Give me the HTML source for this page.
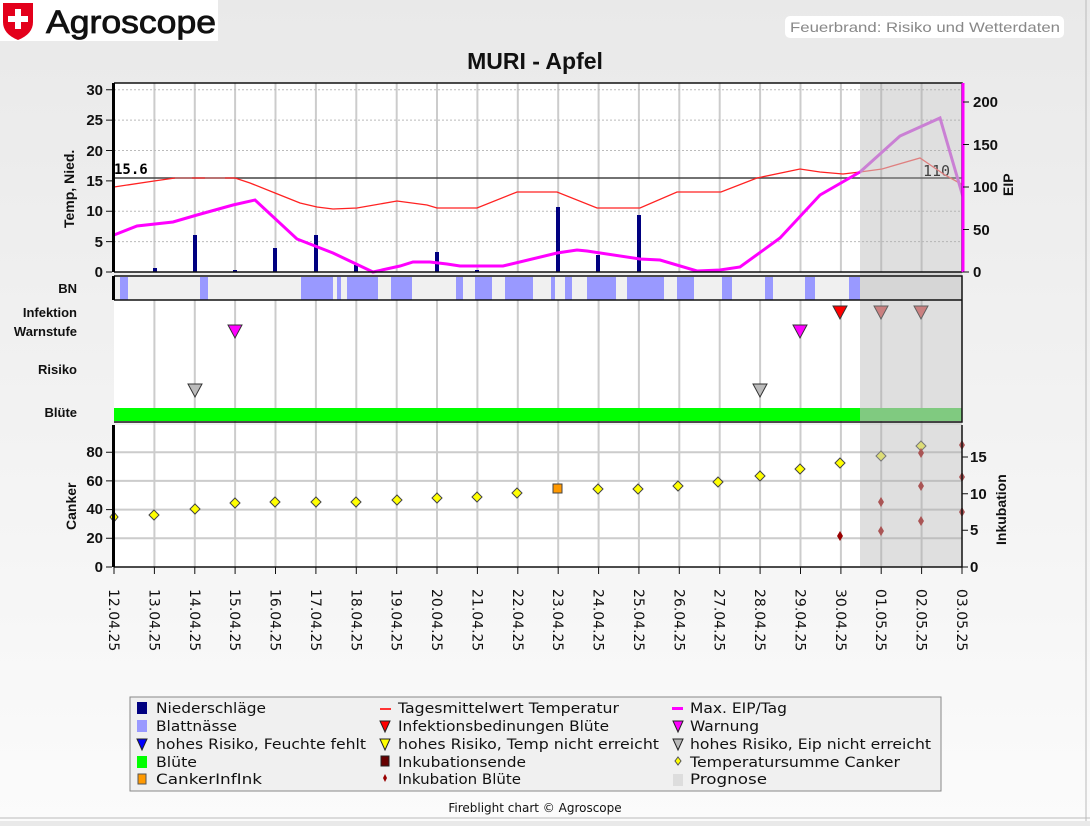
<!DOCTYPE html>
<html><head><meta charset="utf-8"><style>
html,body{margin:0;padding:0}
body{width:1090px;height:821px;overflow:hidden;background:linear-gradient(#e9e9e9,#fbfbfb);font-family:"Liberation Sans",sans-serif}
</style></head><body>
<svg width="1090" height="821" xmlns="http://www.w3.org/2000/svg" font-family="Liberation Sans, sans-serif">
<line x1="1086" y1="0" x2="1086" y2="821" stroke="#bbb"/>
<line x1="0" y1="818" x2="1090" y2="818" stroke="#bbb"/>
<!-- logo -->
<rect x="0" y="0" width="218" height="41" fill="#fff"/>
<path d="M3 3 H33 V22 Q33 34 18 40 Q3 34 3 22 Z" fill="#e3001b"/>
<rect x="15" y="9" width="6" height="20" fill="#fff"/><rect x="8" y="16" width="20" height="6" fill="#fff"/>
<text x="46" y="33" font-size="32" fill="#111" stroke="#111" stroke-width="0.8" textLength="170" lengthAdjust="spacingAndGlyphs">Agroscope</text>
<rect x="785" y="16" width="279" height="22" rx="5" fill="#fff"/>
<text x="790" y="32" font-size="14" fill="#888" textLength="270" lengthAdjust="spacingAndGlyphs">Feuerbrand: Risiko und Wetterdaten</text>
<text x="535" y="69" font-size="23" font-weight="bold" text-anchor="middle" fill="#111">MURI - Apfel</text>

<!-- plot backgrounds -->
<rect x="114" y="83" width="848" height="189" fill="#fff"/>
<rect x="114" y="276" width="848" height="24" fill="#f0f0f0"/>
<rect x="114" y="300" width="848" height="122" fill="#fff"/>
<rect x="114" y="425" width="848" height="142" fill="#fff"/>

<!-- vertical grid -->
<g stroke="#cccccc" stroke-width="2">
<path d="M154.4 83V272M194.8 83V272M235.1 83V272M275.5 83V272M315.9 83V272M356.3 83V272M396.7 83V272M437 83V272M477.4 83V272M517.8 83V272M558.2 83V272M598.6 83V272M638.9 83V272M679.3 83V272M719.7 83V272M760.1 83V272M800.5 83V272M840.9 83V272M881.2 83V272M921.6 83V272"/>
<path d="M154.4 300V567M194.8 300V567M235.1 300V567M275.5 300V567M315.9 300V567M356.3 300V567M396.7 300V567M437 300V567M477.4 300V567M517.8 300V567M558.2 300V567M598.6 300V567M638.9 300V567M679.3 300V567M719.7 300V567M760.1 300V567M800.5 300V567M840.9 300V567M881.2 300V567M921.6 300V567"/>
<path d="M114 538.3H962M114 509.6H962M114 480.9H962M114 452.2H962"/>
</g>
<g stroke="#bbb" stroke-dasharray="2,2">
<path d="M114 241.6H962M114 211.2H962M114 150.5H962M114 120.1H962M114 89.7H962"/>
</g>

<!-- BN segments -->
<g fill="#9999ff">
<rect x="120" y="277" width="8" height="23"/><rect x="200" y="277" width="8" height="23"/>
<rect x="301" y="277" width="32" height="23"/><rect x="337" y="277" width="4" height="23"/>
<rect x="347" y="277" width="31" height="23"/><rect x="391" y="277" width="21" height="23"/>
<rect x="456" y="277" width="7" height="23"/><rect x="475" y="277" width="17" height="23"/>
<rect x="505" y="277" width="28" height="23"/><rect x="551" y="277" width="4" height="23"/>
<rect x="565" y="277" width="7" height="23"/><rect x="587" y="277" width="29" height="23"/>
<rect x="627" y="277" width="37" height="23"/><rect x="677" y="277" width="17" height="23"/>
<rect x="722" y="277" width="10" height="23"/><rect x="765" y="277" width="8" height="23"/>
<rect x="805" y="277" width="10" height="23"/><rect x="849" y="277" width="11" height="23"/>
</g>

<!-- precipitation bars -->
<g fill="#000080">
<rect x="153" y="268" width="4" height="4"/><rect x="193" y="235" width="4" height="37"/>
<rect x="233" y="270" width="4" height="2"/><rect x="273" y="248" width="4" height="24"/>
<rect x="314" y="235" width="4" height="37"/><rect x="354" y="265" width="4" height="7"/>
<rect x="435" y="252" width="4" height="20"/><rect x="475" y="270" width="4" height="2"/>
<rect x="556" y="207" width="4" height="65"/><rect x="596" y="255" width="4" height="17"/>
<rect x="637" y="215" width="4" height="57"/>
</g>

<!-- threshold line -->
<line x1="114" y1="178" x2="962" y2="178" stroke="#444" stroke-width="1.5"/>
<line x1="175" y1="178" x2="192" y2="178" stroke="#44ffff" stroke-width="2"/>
<line x1="205" y1="178" x2="225" y2="178" stroke="#44ffff" stroke-width="2"/>
<text x="114" y="174" font-size="14" font-weight="bold" font-family="DejaVu Sans Mono, monospace">15.6</text>
<text x="923" y="176" font-size="15" font-family="DejaVu Sans Mono, monospace">110</text>

<!-- temperature -->
<polyline fill="none" stroke="#ff2222" stroke-width="1.3" points="114,187 154,181 175,178 235,178 250,183 275,193 300,203 317,207 333,209 357,208 397,201 427,205 437,208 477,208 517,192 557,192 597,208 640,208 677,192 721,192 757,178 800,169 820,172 843,174 860,172"/>
<polyline fill="none" stroke="#ff6666" stroke-width="1.3" points="860,172 882,169 920,158 945,175 963,185"/>
<!-- EIP -->
<polyline fill="none" stroke="#ff00ff" stroke-width="3" points="114,235 137,226 173,222 197,215 233,205 255,200 297,239 333,253 373,272 400,266 413,262 430,262 447,264 460,266 503,266 557,253 577,250 587,251 640,259 660,260 697,271 720,270 740,267 780,238 820,195 860,172"/>
<polyline fill="none" stroke="#dd66ee" stroke-width="3" points="860,172 900,136 940,118 963,197"/>

<!-- middle panel -->
<rect x="114" y="408" width="746" height="13" fill="#00ff00"/>
<rect x="860" y="408" width="102" height="13" fill="#66dd66"/>
<g stroke="#333" stroke-width="1">
<path d="M228 325 H242 L235 338 Z" fill="#ff00ff"/>
<path d="M793 325 H807 L800 338 Z" fill="#ff00ff"/>
<path d="M188 384 H202 L195 397 Z" fill="#bbbbbb"/>
<path d="M753 384 H767 L760 397 Z" fill="#bbbbbb"/>
<path d="M833 306 H847 L840 319 Z" fill="#ff0000"/>
<path d="M874 306 H888 L881 319 Z" fill="#dd6666"/>
<path d="M914 306 H928 L921 319 Z" fill="#dd6666"/>
</g>

<!-- canker -->
<g fill="#ffff00" stroke="#444" stroke-width="1">
<path d="M114 512l4 5-4 5-4-5z"/><path d="M154 510l5 5-5 5-5-5z"/><path d="M195 504l5 5-5 5-5-5z"/>
<path d="M235 498l5 5-5 5-5-5z"/><path d="M275 497l5 5-5 5-5-5z"/><path d="M316 497l5 5-5 5-5-5z"/>
<path d="M356 497l5 5-5 5-5-5z"/><path d="M397 495l5 5-5 5-5-5z"/><path d="M437 493l5 5-5 5-5-5z"/>
<path d="M477 492l5 5-5 5-5-5z"/><path d="M517 488l5 5-5 5-5-5z"/><path d="M598 484l5 5-5 5-5-5z"/>
<path d="M638 484l5 5-5 5-5-5z"/><path d="M678 481l5 5-5 5-5-5z"/><path d="M718 477l5 5-5 5-5-5z"/>
<path d="M760 471l5 5-5 5-5-5z"/><path d="M800 464l5 5-5 5-5-5z"/><path d="M840 458l5 5-5 5-5-5z"/>
</g>
<rect x="553" y="484" width="9" height="9" fill="#ff9900" stroke="#444"/>
<path d="M840 531l3 5-3 5-3-5z" fill="#990000"/>

<!-- prognose shading -->
<rect x="860" y="83" width="102" height="484" fill="#aaaaaa" opacity="0.38"/>
<g fill="#dddd77" stroke="#777">
<path d="M881 451l5 5-5 5-5-5z"/><path d="M921 441l5 5-5 5-5-5z"/>
</g>
<g fill="#aa5555">
<path d="M881 526l3 5-3 5-3-5z"/><path d="M881 497l3 5-3 5-3-5z"/><path d="M921 516l3 5-3 5-3-5z"/>
<path d="M921 481l3 5-3 5-3-5z"/><path d="M921 448l3 5-3 5-3-5z"/><path d="M962 507l3 5-3 5-3-5z"/>
<path d="M962 472l3 5-3 5-3-5z"/><path d="M962 440l3 5-3 5-3-5z"/>
</g>

<!-- frames -->
<g fill="none" stroke="#111" stroke-width="1.5">
<path d="M114 83H962V272H114"/>
<path d="M114 276H962V422H114"/>
<path d="M114 300H962"/>
<path d="M962 425V567H114"/>
</g>
<rect x="112" y="83" width="3" height="189" fill="#000"/>
<rect x="112" y="276" width="3" height="24" fill="#000"/>
<rect x="112" y="425" width="3" height="142" fill="#000"/>
<line x1="963" y1="83" x2="963" y2="272" stroke="#ff00ff" stroke-width="3"/>

<!-- axis labels -->
<g font-size="15" font-weight="bold" text-anchor="end" fill="#111">
<text x="103" y="277">0</text><text x="103" y="247">5</text><text x="103" y="216">10</text>
<text x="103" y="186">15</text><text x="103" y="156">20</text><text x="103" y="125">25</text><text x="103" y="95">30</text>
<text x="103" y="572">0</text><text x="103" y="543">20</text><text x="103" y="514">40</text>
<text x="103" y="486">60</text><text x="103" y="457">80</text>
</g>
<g stroke="#111"><path d="M106 272h6M106 241.6h6M106 211.2h6M106 180.9h6M106 150.5h6M106 120.1h6M106 89.7h6M106 567h6M106 538.3h6M106 509.6h6M106 480.9h6M106 452.2h6"/>
<path d="M963 272h6M963 229.5h6M963 187h6M963 144.5h6M963 102h6M962 567h6M962 530.3h6M962 493.7h6M962 457h6"/></g>
<g font-size="15" font-weight="bold" fill="#111">
<text x="973" y="277">0</text><text x="973" y="235">50</text><text x="973" y="192">100</text>
<text x="973" y="150">150</text><text x="973" y="107">200</text>
<text x="970" y="572">0</text><text x="970" y="535">5</text><text x="970" y="499">10</text><text x="970" y="462">15</text>
</g>
<g font-size="14" font-weight="bold" fill="#111">
<text transform="translate(74,228) rotate(-90)">Temp, Nied.</text>
<text transform="translate(1013,196) rotate(-90)">EIP</text>
<text transform="translate(76,530) rotate(-90)">Canker</text>
<text transform="translate(1006,545) rotate(-90)">Inkubation</text>
</g>
<g font-size="13" font-weight="bold" text-anchor="end" fill="#111">
<text x="77" y="293">BN</text><text x="77" y="317">Infektion</text><text x="77" y="336">Warnstufe</text>
<text x="77" y="374">Risiko</text><text x="77" y="417">Blüte</text>
</g>

<!-- x ticks & labels -->
<g font-size="14" fill="#111" font-family="DejaVu Sans, sans-serif">
<text transform="translate(109,589) rotate(90)">12.04.25</text>
<text transform="translate(149.4,589) rotate(90)">13.04.25</text>
<text transform="translate(189.8,589) rotate(90)">14.04.25</text>
<text transform="translate(230.1,589) rotate(90)">15.04.25</text>
<text transform="translate(270.5,589) rotate(90)">16.04.25</text>
<text transform="translate(310.9,589) rotate(90)">17.04.25</text>
<text transform="translate(351.3,589) rotate(90)">18.04.25</text>
<text transform="translate(391.7,589) rotate(90)">19.04.25</text>
<text transform="translate(432,589) rotate(90)">20.04.25</text>
<text transform="translate(472.4,589) rotate(90)">21.04.25</text>
<text transform="translate(512.8,589) rotate(90)">22.04.25</text>
<text transform="translate(553.2,589) rotate(90)">23.04.25</text>
<text transform="translate(593.6,589) rotate(90)">24.04.25</text>
<text transform="translate(633.9,589) rotate(90)">25.04.25</text>
<text transform="translate(674.3,589) rotate(90)">26.04.25</text>
<text transform="translate(714.7,589) rotate(90)">27.04.25</text>
<text transform="translate(755.1,589) rotate(90)">28.04.25</text>
<text transform="translate(795.5,589) rotate(90)">29.04.25</text>
<text transform="translate(835.9,589) rotate(90)">30.04.25</text>
<text transform="translate(876.2,589) rotate(90)">01.05.25</text>
<text transform="translate(916.6,589) rotate(90)">02.05.25</text>
<text transform="translate(957,589) rotate(90)">03.05.25</text>
</g>
<g stroke="#111"><path d="M114 567v7M154.4 567v7M194.8 567v7M235.1 567v7M275.5 567v7M315.9 567v7M356.3 567v7M396.7 567v7M437 567v7M477.4 567v7M517.8 567v7M558.2 567v7M598.6 567v7M638.9 567v7M679.3 567v7M719.7 567v7M760.1 567v7M800.5 567v7M840.9 567v7M881.2 567v7M921.6 567v7M962 567v7"/></g>

<!-- legend -->
<rect x="130" y="697" width="811" height="94" fill="#f0f0f0" stroke="#888"/>
<g font-size="14" fill="#111" font-family="DejaVu Sans, sans-serif" lengthAdjust="spacingAndGlyphs">
<rect x="137" y="702" width="10" height="12" fill="#000080"/><text x="156" y="713" textLength="110" lengthAdjust="spacingAndGlyphs">Niederschläge</text>
<rect x="137" y="720" width="10" height="12" fill="#9999ff"/><text x="156" y="731" textLength="81" lengthAdjust="spacingAndGlyphs">Blattnässe</text>
<path d="M137 739h10l-5 11z" fill="#0000ff" stroke="#222"/><text x="156" y="749" textLength="210" lengthAdjust="spacingAndGlyphs">hohes Risiko, Feuchte fehlt</text>
<rect x="137" y="756" width="10" height="12" fill="#00ff00"/><text x="156" y="767" textLength="41" lengthAdjust="spacingAndGlyphs">Blüte</text>
<rect x="138" y="774" width="8" height="10" fill="#ff9900" stroke="#555"/><text x="156" y="784" textLength="106" lengthAdjust="spacingAndGlyphs">CankerInfInk</text>
<rect x="380" y="708" width="11" height="2" fill="#ff3333"/><text x="398" y="713" textLength="221" lengthAdjust="spacingAndGlyphs">Tagesmittelwert Temperatur</text>
<path d="M380 721h10l-5 11z" fill="#ff0000" stroke="#222"/><text x="398" y="731" textLength="211" lengthAdjust="spacingAndGlyphs">Infektionsbedinungen Blüte</text>
<path d="M380 739h10l-5 11z" fill="#ffff00" stroke="#222"/><text x="398" y="749" textLength="261" lengthAdjust="spacingAndGlyphs">hohes Risiko, Temp nicht erreicht</text>
<rect x="381" y="756" width="8" height="10" fill="#660000" stroke="#222"/><text x="398" y="767" textLength="128" lengthAdjust="spacingAndGlyphs">Inkubationsende</text>
<path d="M385 774l2 4-2 4-2-4z" fill="#990000"/><text x="398" y="784" textLength="123" lengthAdjust="spacingAndGlyphs">Inkubation Blüte</text>
<rect x="672" y="707" width="11" height="3" fill="#ff00ff"/><text x="690" y="713" textLength="97" lengthAdjust="spacingAndGlyphs">Max. EIP/Tag</text>
<path d="M673 721h10l-5 11z" fill="#ff00ff" stroke="#222"/><text x="690" y="731" textLength="69" lengthAdjust="spacingAndGlyphs">Warnung</text>
<path d="M673 739h10l-5 11z" fill="#bbbbbb" stroke="#222"/><text x="690" y="749" textLength="241" lengthAdjust="spacingAndGlyphs">hohes Risiko, Eip nicht erreicht</text>
<path d="M678 757l3 4-3 4-3-4z" fill="#ffff00" stroke="#555"/><text x="690" y="767" textLength="210" lengthAdjust="spacingAndGlyphs">Temperatursumme Canker</text>
<rect x="673" y="774" width="10" height="12" fill="#dddddd"/><text x="690" y="784" textLength="77" lengthAdjust="spacingAndGlyphs">Prognose</text>
</g>
<text x="535" y="812" font-size="12" text-anchor="middle" fill="#111" font-family="DejaVu Sans, sans-serif">Fireblight chart © Agroscope</text>
</svg>
</body></html>
